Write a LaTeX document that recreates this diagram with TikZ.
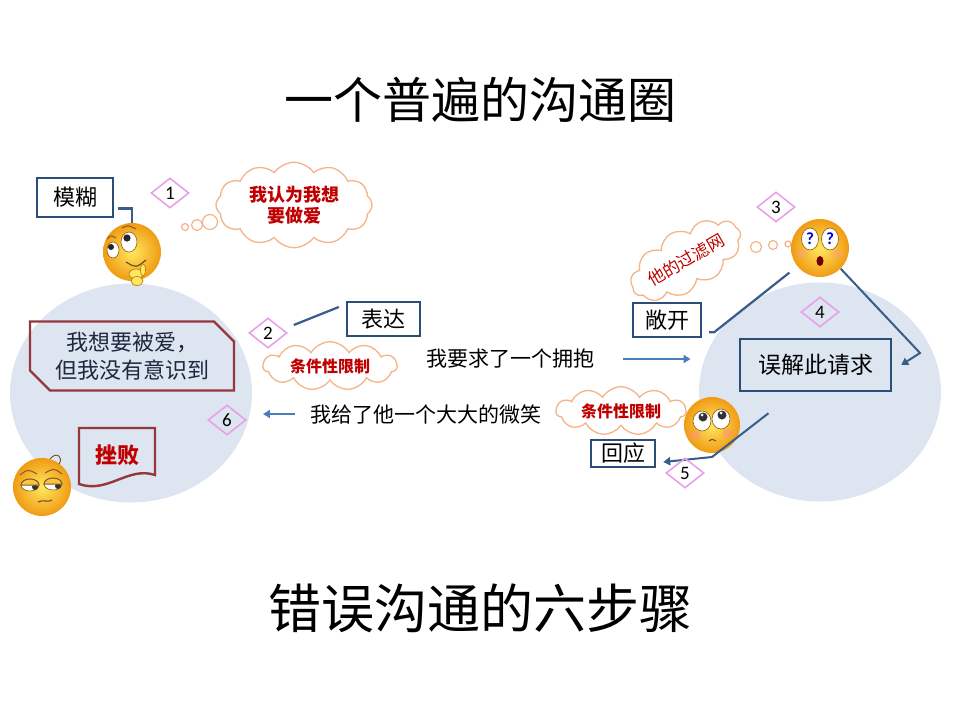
\documentclass[tikz,border=0pt]{standalone}
\usepackage{fontspec}
\setmainfont{Carlito}
\newfontfamily\cjk{Noto Sans CJK SC}
\usetikzlibrary{shapes.geometric,shapes.symbols,shapes.misc,arrows.meta}
\definecolor{boxblue}{RGB}{44,77,120}
\definecolor{leadblue}{RGB}{56,93,138}
\definecolor{arrowblue}{RGB}{74,126,187}
\definecolor{ringfill}{RGB}{221,229,241}
\definecolor{tagpink}{RGB}{232,160,232}
\definecolor{cloudline}{RGB}{244,180,136}
\definecolor{condred}{RGB}{192,0,0}
\definecolor{boxred}{RGB}{149,55,60}
\definecolor{inktext}{RGB}{30,40,62}
\definecolor{faceyellow}{RGB}{255,232,95}
\definecolor{faceorange}{RGB}{240,155,20}

\begin{document}
\begin{tikzpicture}[x=1pt,y=-1pt,
    ring/.style={ellipse,fill=ringfill,minimum width=242pt,minimum height=219pt},
    box/.style={draw=boxblue,line width=2.4pt,inner sep=2pt,text=black,
                font=\cjk\fontsize{22}{26}\selectfont},
    tag/.style={diamond,draw=tagpink,line width=1.6pt,minimum width=38pt,
                minimum height=30pt,inner sep=0pt,font=\fontsize{19}{19}\selectfont},
    cond/.style={cloud,cloud puffs=11,cloud puff arc=120,aspect=3.6,draw=cloudline,
                 line width=1.3pt,fill=white,text=condred,inner sep=0pt,
                 font=\cjk\bfseries\fontsize{16}{16}\selectfont},
    say/.style={font=\cjk\fontsize{21}{21}\selectfont},
    face/.style={circle,minimum size=58pt,inner sep=0pt,shading=radial,
                 inner color=faceyellow,outer color=faceorange},
    lead/.style={draw=leadblue,line width=2.2pt},
    arr/.style={draw=arrowblue,line width=2pt,-{Triangle[length=7pt,width=8pt]}},
    bubble/.style={draw=cloudline,line width=1.2pt,fill=white}]
    \useasboundingbox (0,0) rectangle (960,720);
    % two circles
    \node (leftRing) at (131,393) [ring] {};
    \node (rightRing) at (820,392) [ring] {};
    % titles
    \node (title) at (480,100) [font=\cjk\fontsize{49}{49}\selectfont] {一个普遍的沟通圈};
    \node (subTitle) at (480,608) [font=\cjk\fontsize{53}{53}\selectfont] {错误沟通的六步骤};

    % left side
    \node (muHu) at (75,197.5) [box,minimum width=76pt,minimum height=39pt] {模糊};
    \node (tag1) at (170,193) [tag] {1};
    \draw[bubble] (185,227) circle [radius=3.5];
    \draw[bubble] (197,225) circle [radius=5.5];
    \draw[bubble] (210,222) circle [radius=7.5];
    \node (thought) at (294,205) [cloud,cloud puffs=12,cloud puff arc=110,aspect=1.8,
          draw=cloudline,line width=1.3pt,fill=white,text=condred,align=center,
          minimum width=156pt,minimum height=84pt,inner sep=0pt,
          font=\cjk\bfseries\fontsize{18}{21}\selectfont] {我认为我想\\要做爱};
    \node (faceA) at (132,252) [face] {};
    \begin{scope}[shift={(faceA.center)}]
        \fill[white,draw=faceorange!60!black,line width=0.6pt] (-19,-2) ellipse [x radius=6,y radius=8];
        \fill[white,draw=faceorange!60!black,line width=0.6pt] (-3,-10) ellipse [x radius=8,y radius=10];
        \fill[black!85] (-21,-5) circle [radius=3];
        \fill[black!85] (-5,-14) circle [radius=3.6];
        \draw[brown!70!black,line width=1pt] (-25,-13) .. controls (-21,-17) .. (-16,-14);
        \draw[brown!70!black,line width=1pt] (-10,-24) .. controls (-4,-27) .. (4,-23);
        \draw[brown!60!black,line width=1.2pt] (-6,10) .. controls (4,16) .. (14,8);
        \filldraw[fill=faceyellow,draw=faceorange!80!black,line width=0.7pt]
            (4,22) ellipse [x radius=7,y radius=5];
        \filldraw[fill=faceyellow,draw=faceorange!80!black,line width=0.7pt]
            (5,29) ellipse [x radius=6,y radius=4.5];
        \filldraw[fill=faceyellow,draw=faceorange!80!black,line width=0.7pt]
            (11,18) ellipse [x radius=2.5,y radius=6];
    \end{scope}
    \draw[lead] ([shift={(4pt,-11pt)}]muHu.east) -| (faceA.north);

    \node (wish) at (132,356) [chamfered rectangle,chamfered rectangle corners={north east,south west},
          chamfered rectangle xsep=10pt,chamfered rectangle ysep=10pt,draw=boxred,line width=2.4pt,
          minimum width=204pt,minimum height=69pt,inner sep=0pt,align=center,text=inktext,
          font=\cjk\fontsize{22}{28}\selectfont] {我想要被爱，\\但我没有意识到};
    \node (tag2) at (268,333) [tag] {2};
    \node (biaoDa) at (383.5,319) [box,fill=white,minimum width=73pt,minimum height=34pt] {表达};
    \draw[lead] ([shift={(6pt,8pt)}]tag2.east) -- ([shift={(-7pt,12pt)}]biaoDa.west);
    \node (condA) at (330,366) [cond,minimum width=134pt,minimum height=36pt] {条件性限制};
    \node (tag6) at (227,420) [tag] {6};
    \node (cuoBai) at (117,455) [text=condred,font=\cjk\bfseries\fontsize{22}{22}\selectfont] {挫败};
    \draw[draw=boxred,line width=2.4pt] (79,428) -- (155,428) -- (155,475)
          .. controls (128,466) and (108,494) .. (79,484) -- cycle;
    \node (faceD) at (42,487) [face] {};
    \begin{scope}[shift={(faceD.center)}]
        \fill[white,draw=faceorange!60!black,line width=0.6pt] (-12,-2) ellipse [x radius=9,y radius=6];
        \fill[white,draw=faceorange!60!black,line width=0.6pt] (11,-3) ellipse [x radius=9,y radius=6];
        \fill[black!80] (-7,0) circle [radius=3];
        \fill[black!80] (16,-1) circle [radius=3];
        \filldraw[fill=faceorange!45!faceyellow,draw=brown!70!black,line width=1pt]
            (-21,-2) arc [start angle=180,end angle=360,x radius=9,y radius=6] -- cycle;
        \filldraw[fill=faceorange!45!faceyellow,draw=brown!70!black,line width=1pt]
            (2,-3) arc [start angle=180,end angle=360,x radius=9,y radius=6] -- cycle;
        \draw[brown!70!black,line width=1pt] (-22,-12) .. controls (-14,-18) .. (-5,-13);
        \draw[brown!70!black,line width=1pt] (3,-14) .. controls (12,-19) .. (20,-13);
        \draw[brown!60!black,line width=1.1pt] (-4,15) .. controls (2,12) and (6,16) .. (10,13);
        \draw[brown!60!black,line width=0.9pt] (8,-28) .. controls (14,-36) and (22,-30) .. (17,-23);
    \end{scope}

    % middle messages
    \node (askText) at (510,359) [say] {我要求了一个拥抱};
    \draw[arr] ([xshift=25pt]askText.east) -- ([xshift=93pt]askText.east);
    \node (smileText) at (426,414) [say] {我给了他一个大大的微笑};
    \draw[arr] ([xshift=-12pt]smileText.west) -- ([xshift=-44pt]smileText.west);
    \node (condB) at (621,411) [cond,minimum width=130pt,minimum height=34pt] {条件性限制};

    % right side
    \node (tag3) at (776,207) [tag] {3};
    \node (filter) at (686,260) [cond,rotate=30,aspect=2.8,minimum width=122pt,minimum height=42pt,
          font=\cjk\fontsize{17}{17}\selectfont] {他的过滤网};
    \draw[bubble] (756,247) circle [radius=5.5];
    \draw[bubble] (773,245) circle [radius=4.5];
    \draw[bubble] (788,244) circle [radius=3];
    \node (faceB) at (820,248) [face] {};
    \begin{scope}[shift={(faceB.center)}]
        \fill[white,draw=faceorange!60!black,line width=0.6pt] (-10,-9) ellipse [x radius=8.5,y radius=11];
        \fill[white,draw=faceorange!60!black,line width=0.6pt] (10,-9) ellipse [x radius=8.5,y radius=11];
        \node (qLeft) at (-10,-9) [text=blue!75!black,inner sep=0pt,font=\bfseries\fontsize{17}{17}\selectfont] {?};
        \node (qRight) at (10,-9) [text=blue!75!black,inner sep=0pt,font=\bfseries\fontsize{17}{17}\selectfont] {?};
        \fill[red!45!black] (0,13) ellipse [x radius=3.5,y radius=5];
        \fill[red!40,opacity=0.35] (-18,6) ellipse [x radius=6,y radius=4];
        \fill[red!40,opacity=0.35] (18,6) ellipse [x radius=6,y radius=4];
    \end{scope}
    \node (changKai) at (667,320) [box,fill=white,minimum width=68pt,minimum height=34pt] {敞开};
    \draw[lead] ([shift={(7pt,6pt)}]changKai.south east) -- ++(5,0) -- ([shift={(-10pt,-4pt)}]faceB.south west);
    \node (tag4) at (820,312) [tag] {4};
    \node (wuJie) at (815.5,365) [box,fill=ringfill,minimum width=151pt,minimum height=52pt,
          font=\cjk\fontsize{23}{26}\selectfont] {误解此请求};
    \coordinate (bendB) at (920,353);
    \draw[arr,draw=leadblue] (faceB.-45) -- (bendB) -- ([xshift=9pt]wuJie.east);
    \node (faceC) at (712,425) [face,minimum size=56pt] {};
    \begin{scope}[shift={(faceC.center)}]
        \fill[white,draw=faceorange!60!black,line width=0.6pt] (-10,-4) ellipse [x radius=9,y radius=10];
        \fill[white,draw=faceorange!60!black,line width=0.6pt] (9,-6) ellipse [x radius=9,y radius=10];
        \fill[black!80] (-9,-8) circle [radius=4.5];
        \fill[black!80] (10,-10) circle [radius=4.5];
        \fill[white] (-10,-10) circle [radius=1.5];
        \fill[white] (9,-12) circle [radius=1.5];
        \fill[red!45,opacity=0.45] (-17,10) ellipse [x radius=6,y radius=4];
        \fill[red!45,opacity=0.45] (16,8) ellipse [x radius=6,y radius=4];
        \draw[brown!60!black,line width=1pt] (-3,16) .. controls (0,14) .. (4,16);
    \end{scope}
    \node (huiYing) at (623,453.5) [box,fill=white,minimum width=64pt,minimum height=27pt,
          inner sep=0pt] {回应};
    \coordinate (bendC) at (712,457);
    \draw[arr,draw=leadblue] ([shift={(-47pt,-21pt)}]wuJie.south) -- (bendC) -- ([shift={(7pt,-8.5pt)}]huiYing.east);
    \node (tag5) at (685,473) [tag] {5};
\end{tikzpicture}
\end{document}
